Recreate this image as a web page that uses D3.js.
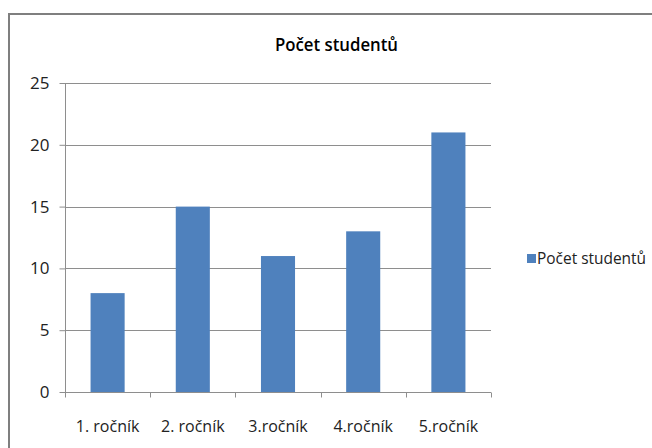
<!DOCTYPE html>
<html>
<head>
<meta charset="utf-8">
<script src="https://cdn.jsdelivr.net/npm/d3@7"></script>
<style>
  html, body { margin: 0; padding: 0; background: #fff; }
  svg { display: block; font-family: "Open Sans", "Noto Sans", sans-serif; }
</style>
</head>
<body>
<svg id="chart" width="652" height="448"></svg>
<script>
// Student counts per year of study
const categories = ["1. ročník", "2. ročník", "3.ročník", "4.ročník", "5.ročník"];
const values = [8, 15, 11, 13, 21];
const yTicks = [0, 5, 10, 15, 20, 25];
const seriesName = "Počet studentů";
const chartTitle = "Počet studentů";

const svg = d3.select("#chart");
const plot = { left: 65, right: 491, top: 83, bottom: 392 };
const barColor = "#4F81BD";
const gridColor = "#8e8e8e";

// Chart frame (only top and left edges fall inside the window)
svg.append("path")
  .attr("d", "M9,448 V14 H652")
  .attr("fill", "none")
  .attr("stroke", "#7f7f7f")
  .attr("stroke-width", 2);

// Title
svg.append("text")
  .attr("x", 336.5).attr("y", 51)
  .attr("text-anchor", "middle")
  .attr("font-size", 18)
  .attr("font-weight", 600)
  .attr("fill", "#000")
  .attr("textLength", 123)
  .attr("lengthAdjust", "spacingAndGlyphs")
  .text(chartTitle);

const x = d3.scaleBand()
  .domain(categories)
  .range([plot.left, plot.right])
  .paddingInner(0.6)
  .paddingOuter(0.3);

const y = d3.scaleLinear()
  .domain([0, 25])
  .range([plot.bottom, plot.top]);

// Horizontal gridlines
svg.append("g")
  .selectAll("line")
  .data(yTicks.filter(d => d > 0))
  .join("line")
  .attr("x1", plot.left).attr("x2", plot.right)
  .attr("y1", d => Math.round(y(d)) + 0.5)
  .attr("y2", d => Math.round(y(d)) + 0.5)
  .attr("stroke", gridColor)
  .attr("stroke-width", 1);

// Bars
svg.append("g")
  .selectAll("rect")
  .data(values)
  .join("rect")
  .attr("x", (d, i) => x(categories[i]))
  .attr("width", x.bandwidth())
  .attr("y", d => y(d))
  .attr("height", d => y(0) - y(d))
  .attr("fill", barColor);

// Y axis
const yAxis = svg.append("g")
  .attr("transform", `translate(${plot.left + 0.5},0)`)
  .call(d3.axisLeft(y).tickValues(yTicks).tickSize(6).tickPadding(10).tickFormat(d3.format("d")));
yAxis.select(".domain").attr("stroke", gridColor).attr("d", `M0,${plot.top}V${plot.bottom + 5}`);
yAxis.selectAll(".tick line").attr("stroke", gridColor);
yAxis.selectAll(".tick text")
  .attr("font-size", 17)
  .attr("fill", "#222")
  .attr("font-family", "'Open Sans', sans-serif");

// X axis with boundary ticks between categories
const xAxisG = svg.append("g")
  .attr("transform", `translate(0,${Math.round(plot.bottom) + 0.5})`);
xAxisG.append("line")
  .attr("x1", plot.left).attr("x2", plot.right)
  .attr("stroke", gridColor);
const boundaries = d3.range(categories.length + 1).map(i => plot.left + i * (plot.right - plot.left) / categories.length);
xAxisG.selectAll("line.tick")
  .data(boundaries)
  .join("line")
  .attr("class", "tick")
  .attr("x1", d => Math.round(d) + 0.5).attr("x2", d => Math.round(d) + 0.5)
  .attr("y1", 0).attr("y2", 5)
  .attr("stroke", gridColor);
xAxisG.selectAll("text")
  .data(categories)
  .join("text")
  .attr("x", d => x(d) + x.bandwidth() / 2)
  .attr("y", 39)
  .attr("text-anchor", "middle")
  .attr("font-size", 16)
  .attr("fill", "#222")
  .text(d => d);

// Legend
const legend = svg.append("g").attr("transform", "translate(527,254)");
legend.append("rect")
  .attr("width", 9).attr("height", 9)
  .attr("fill", barColor);
legend.append("text")
  .attr("x", 10).attr("y", 10)
  .attr("font-size", 16)
  .attr("fill", "#222")
  .attr("textLength", 109)
  .attr("lengthAdjust", "spacingAndGlyphs")
  .text(seriesName);
</script>
</body>
</html>
